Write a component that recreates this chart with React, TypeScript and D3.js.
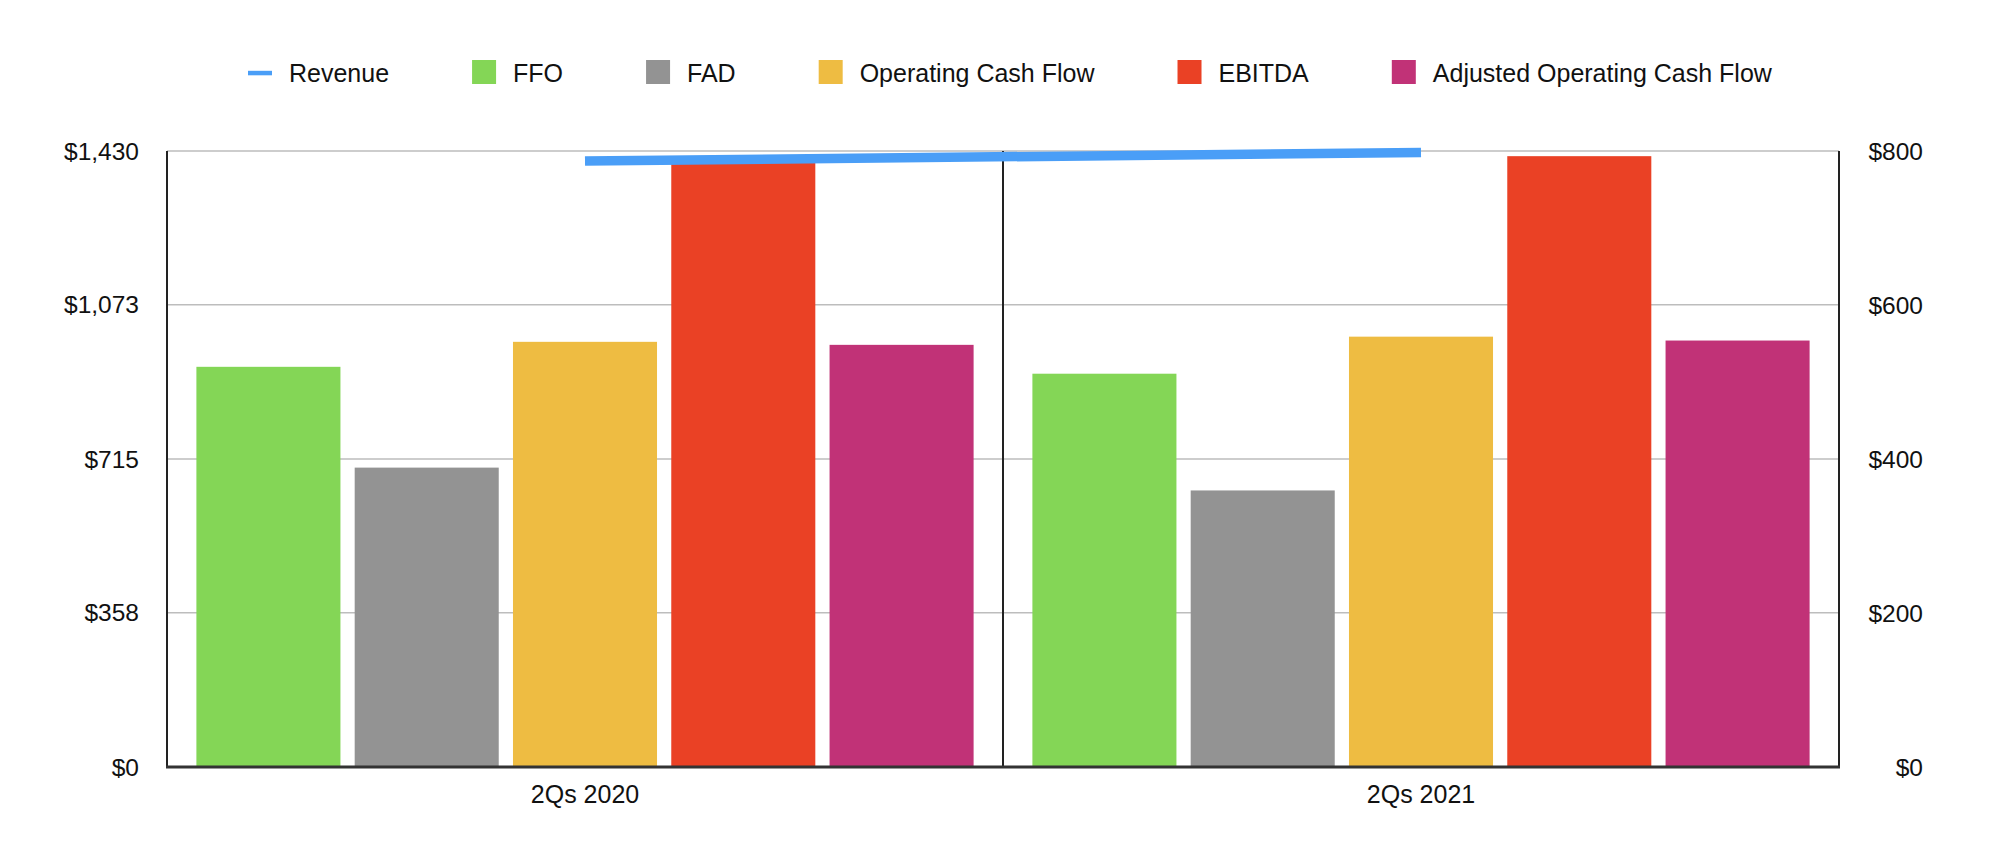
import React, { useMemo } from "react";
import * as d3 from "d3";

const categories = ["2Qs 2020", "2Qs 2021"];
const barSeries = ["FFO", "FAD", "Operating Cash Flow", "EBITDA", "Adjusted Operating Cash Flow"];
const barColors = ["#84D656", "#939393", "#EEBC42", "#EA4125", "#C13277"];
const ffo = [929, 913];
const fad = [695, 642];
const operatingCashFlow = [987, 999];
const ebitda = [1405, 1418];
const adjustedOperatingCashFlow = [980, 990];
const revenue = [787, 798];
const revenueColor = "#4A9EF7";
const leftTicks = [0, 358, 715, 1073, 1430];
const rightTicks = [0, 200, 400, 600, 800];

const FONT = "'Liberation Sans', Arial, Helvetica, sans-serif";

export default function App() {
  const W = 2006, H = 862;
  const left = 167, right = 1839, top = 151, bottom = 767;
  const barValues = [ffo, fad, operatingCashFlow, ebitda, adjustedOperatingCashFlow];

  const x0 = d3.scaleBand<string>().domain(categories).range([left, right]).paddingInner(0).paddingOuter(0);
  const bw = x0.bandwidth();
  const x1 = d3.scaleBand<string>().domain(barSeries).range([29.4, bw - 29.4]).paddingInner(0.09).paddingOuter(0);
  const yL = d3.scaleLinear().domain([0, 1430]).range([bottom, top]);
  const yR = d3.scaleLinear().domain([0, 800]).range([bottom, top]);

  const fmt = (v: number) => "$" + d3.format(",")(v);

  const legendItems = useMemo(() => {
    const names = ["Revenue", ...barSeries];
    const colors = [revenueColor, ...barColors];
    let ctx: CanvasRenderingContext2D | null = null;
    try {
      ctx = document.createElement("canvas").getContext("2d");
      if (ctx) ctx.font = `25px ${FONT}`;
    } catch (e) { ctx = null; }
    let x = 248;
    return names.map((n, i) => {
      const w = ctx ? ctx.measureText(n).width : n.length * 12.5;
      const item = { name: n, color: colors[i], x, line: i === 0 };
      x += 24 + 17 + w + 83;
      return item;
    });
  }, []);

  const line = d3.line<number>()
    .x((_, i) => (x0(categories[i]) as number) + bw / 2)
    .y((d) => yR(d));

  return (
    <div style={{ position: "absolute", left: 0, top: 0, width: W, height: H, background: "#fff" }}>
      <svg width={W} height={H} style={{ display: "block", fontFamily: FONT }}>
        <rect x={0} y={0} width={W} height={H} fill="#fff" />
        {leftTicks.map((t) => (
          <line key={"g" + t} x1={left} x2={right} y1={yL(t)} y2={yL(t)} stroke="#BDBDBD" strokeWidth={1.5} />
        ))}
        {categories.map((c, ci) => (
          <g key={c} transform={`translate(${x0(c)},0)`}>
            {barSeries.map((s, si) => (
              <rect
                key={s}
                x={x1(s) as number}
                y={yL(barValues[si][ci])}
                width={x1.bandwidth()}
                height={bottom - yL(barValues[si][ci])}
                fill={barColors[si]}
              />
            ))}
          </g>
        ))}
        <line x1={left} x2={left} y1={top} y2={bottom} stroke="#222" strokeWidth={2} />
        <line x1={right} x2={right} y1={top} y2={bottom} stroke="#222" strokeWidth={2} />
        {categories.slice(1).map((c) => (
          <line key={"sep" + c} x1={x0(c) as number} x2={x0(c) as number} y1={top} y2={bottom} stroke="#222" strokeWidth={2} />
        ))}
        <line x1={left - 1} x2={right + 1} y1={bottom} y2={bottom} stroke="#333" strokeWidth={3} />
        {leftTicks.map((t) => (
          <text key={"l" + t} x={139} y={yL(t)} dy="0.35em" textAnchor="end" fontSize={24.5} fill="#111">{fmt(t)}</text>
        ))}
        {rightTicks.map((t) => (
          <text key={"r" + t} x={1923} y={yR(t)} dy="0.35em" textAnchor="end" fontSize={24.5} fill="#111">{fmt(t)}</text>
        ))}
        {categories.map((c) => (
          <text key={"c" + c} x={(x0(c) as number) + bw / 2} y={803} textAnchor="middle" fontSize={25} fill="#111">{c}</text>
        ))}
        <path d={line(revenue) || ""} fill="none" stroke={revenueColor} strokeWidth={9.5} strokeLinecap="butt" />
        {legendItems.map((it) => (
          <g key={it.name}>
            {it.line ? (
              <rect x={it.x} y={70.8} width={24} height={4.5} fill={it.color} />
            ) : (
              <rect x={it.x} y={60} width={24} height={24} fill={it.color} />
            )}
            <text x={it.x + 41} y={82} fontSize={25} fill="#111">{it.name}</text>
          </g>
        ))}
      </svg>
    </div>
  );
}
